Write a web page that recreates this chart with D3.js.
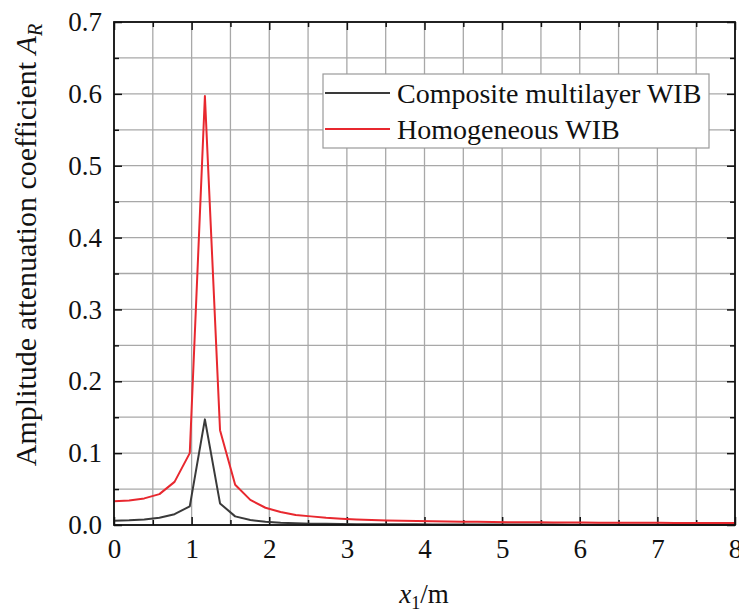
<!DOCTYPE html>
<html><head><meta charset="utf-8">
<script src="https://cdn.jsdelivr.net/npm/d3@7"></script>
<style>body{margin:0;background:#fff}svg{display:block}svg text{font-family:"Liberation Serif","DejaVu Serif",serif}</style>
</head><body>
<svg id="c" width="739" height="612"></svg>
<script>
const xValues = [0, 0.195, 0.390, 0.585, 0.780, 0.976, 1.171, 1.366, 1.561, 1.756, 1.951, 2.146, 2.341, 2.537, 2.732, 2.927, 3.122, 3.317, 3.512, 3.707, 3.902, 4.098, 4.293, 4.488, 4.683, 4.878, 5.073, 5.268, 5.463, 5.659, 5.854, 6.049, 6.244, 6.439, 6.634, 6.829, 7.024, 7.220, 7.415, 7.610, 7.805, 8.0];
const composite = [0.006, 0.0065, 0.0075, 0.010, 0.015, 0.026, 0.147, 0.030, 0.012, 0.007, 0.0045, 0.0032, 0.0024, 0.0019, 0.0016, 0.0014, 0.0012, 0.0011, 0.0010, 0.0009, 0.0009, 0.0008, 0.0008, 0.0007, 0.0007, 0.0007, 0.0006, 0.0006, 0.0006, 0.0006, 0.0005, 0.0005, 0.0005, 0.0005, 0.0005, 0.0005, 0.0005, 0.0004, 0.0004, 0.0004, 0.0004, 0.0004];
const homogeneous = [0.033, 0.034, 0.037, 0.043, 0.060, 0.100, 0.597, 0.132, 0.056, 0.035, 0.024, 0.018, 0.014, 0.012, 0.010, 0.0088, 0.0078, 0.0070, 0.0064, 0.0059, 0.0055, 0.0051, 0.0048, 0.0046, 0.0044, 0.0042, 0.0040, 0.0038, 0.0037, 0.0036, 0.0035, 0.0034, 0.0033, 0.0032, 0.0031, 0.0031, 0.0030, 0.0029, 0.0029, 0.0028, 0.0028, 0.0027];
const seriesNames = ["Composite multilayer WIB", "Homogeneous WIB"];
const seriesColors = ["#3a3a3a", "#e8282f"];
const xTicks = [0, 1, 2, 3, 4, 5, 6, 7, 8];
const yTicks = [0.0, 0.1, 0.2, 0.3, 0.4, 0.5, 0.6, 0.7];

const svg = d3.select("#c");
const L = 114, R = 735, T = 22, B = 525;
const x = d3.scaleLinear().domain([0, 8]).range([L, R]);
const y = d3.scaleLinear().domain([0, 0.7]).range([B, T]);

const xMinor = d3.range(0, 8.001, 0.5);
const yMinor = d3.range(0, 0.7001, 0.05);

const g = svg.append("g");
g.selectAll("line.vx").data(xMinor).join("line")
  .attr("x1", d => x(d)).attr("x2", d => x(d)).attr("y1", T).attr("y2", B)
  .attr("stroke", "#a8a8a8").attr("stroke-width", 1.3);
g.selectAll("line.hy").data(yMinor).join("line")
  .attr("y1", d => y(d)).attr("y2", d => y(d)).attr("x1", L).attr("x2", R)
  .attr("stroke", "#a8a8a8").attr("stroke-width", 1.3);

function addAxis(axisFn, scale, vals, size, transform, labels) {
  const a = svg.append("g").attr("transform", transform)
    .call(axisFn(scale).tickValues(vals).tickSize(size).tickFormat(labels ? labels : ""));
  a.select(".domain").remove();
  a.attr("font-family", null).attr("font-size", null);
  a.selectAll("line").attr("stroke", "#111").attr("stroke-width", 1.5);
  return a;
}
const yFmt = d3.format(".1f");
const bx = addAxis(d3.axisBottom, x, xTicks, -8, `translate(0,${B})`, d => d);
addAxis(d3.axisBottom, x, xMinor.filter(v => v % 1 !== 0), -5, `translate(0,${B})`, null);
bx.selectAll("text").attr("font-size", 27).attr("fill", "#111").attr("y", 14).attr("dy", "0.71em");
addAxis(d3.axisTop, x, xTicks, -8, `translate(0,${T})`, null);
addAxis(d3.axisTop, x, xMinor.filter(v => v % 1 !== 0), -5, `translate(0,${T})`, null);
const ly = addAxis(d3.axisLeft, y, yTicks, -8, `translate(${L},0)`, yFmt);
addAxis(d3.axisLeft, y, yMinor.filter((v, i) => i % 2 === 1), -5, `translate(${L},0)`, null);
ly.selectAll("text").attr("font-size", 27).attr("fill", "#111").attr("x", -12);
addAxis(d3.axisRight, y, yTicks, -8, `translate(${R},0)`, null);
addAxis(d3.axisRight, y, yMinor.filter((v, i) => i % 2 === 1), -5, `translate(${R},0)`, null);

const line = d3.line().x((d, i) => x(xValues[i])).y(d => y(d));
[composite, homogeneous].forEach((s, k) => {
  svg.append("path").datum(s).attr("d", line).attr("fill", "none")
    .attr("stroke", seriesColors[k]).attr("stroke-width", 2).attr("stroke-linejoin", "round");
});

svg.append("rect").attr("x", L).attr("y", T).attr("width", R - L).attr("height", B - T)
  .attr("fill", "none").attr("stroke", "#111").attr("stroke-width", 1.8);

const lg = svg.append("g");
lg.append("rect").attr("x", 323).attr("y", 74).attr("width", 386).attr("height", 74)
  .attr("fill", "#fff").attr("stroke", "#9a9a9a").attr("stroke-width", 1.2);
seriesNames.forEach((n, k) => {
  const yy = 93 + k * 36;
  lg.append("line").attr("x1", 325).attr("x2", 390).attr("y1", yy).attr("y2", yy)
    .attr("stroke", seriesColors[k]).attr("stroke-width", 2);
  lg.append("text").attr("x", 397).attr("y", yy).attr("dy", "0.35em")
    .attr("font-size", 28).attr("fill", "#111").text(n);
});

const xt = svg.append("text").attr("x", 424).attr("y", 603).attr("text-anchor", "middle")
  .attr("font-size", 27).attr("fill", "#111");
xt.append("tspan").attr("font-style", "italic").text("x");
xt.append("tspan").attr("font-size", 18).attr("dy", 6).text("1");
xt.append("tspan").attr("dy", -6).text("/m");

const yt = svg.append("text").attr("transform", `translate(36,245) rotate(-90)`)
  .attr("text-anchor", "middle").attr("font-size", 30).attr("fill", "#111");
yt.append("tspan").text("Amplitude attenuation coefficient ");
yt.append("tspan").attr("font-style", "italic").text("A");
yt.append("tspan").attr("font-style", "italic").attr("font-size", 20).attr("dy", 6).text("R");
</script>
</body></html>
